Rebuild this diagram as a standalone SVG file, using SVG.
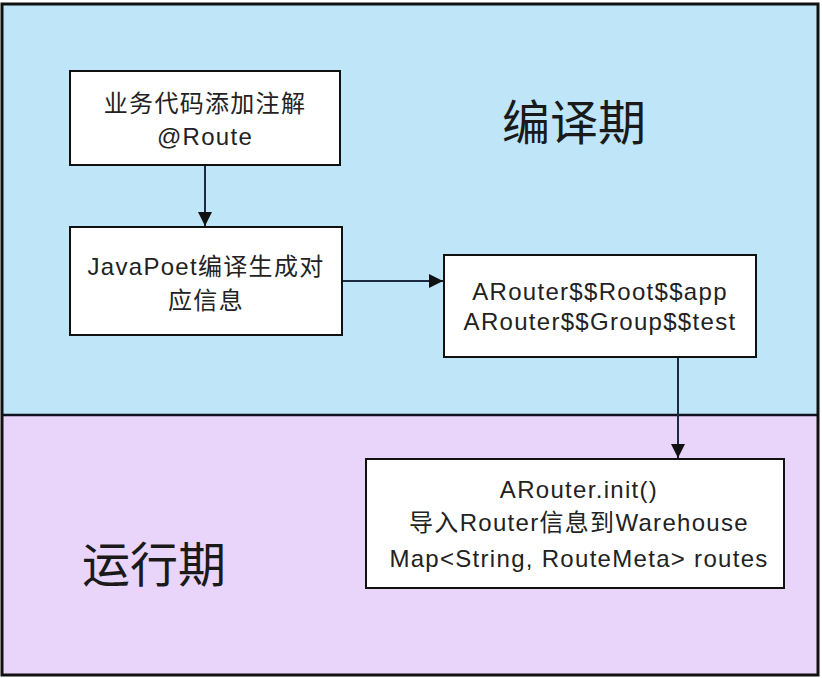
<svg xmlns="http://www.w3.org/2000/svg" width="822" height="678" viewBox="0 0 822 678">
<defs>
<style>
.box{fill:#ffffff;stroke:#111111;stroke-width:2}
.t{font-family:"Liberation Sans","Noto Sans CJK SC",sans-serif;font-size:24px;fill:#222222;text-anchor:middle;letter-spacing:1.3px}
.big{font-family:"Noto Sans CJK SC",sans-serif;font-size:48px;fill:#1a1a1a;text-anchor:middle}
.conn{stroke:#1a2a40;stroke-width:2;fill:none;marker-end:url(#ah)}
</style>
<marker id="ah" viewBox="0 0 10 10" refX="10" refY="5" markerWidth="14" markerHeight="14" markerUnits="userSpaceOnUse" orient="auto">
<path d="M0,0 L10,5 L0,10 z" fill="#111111"/>
</marker>
</defs>
<g id="phases">
<rect x="2" y="4" width="816" height="411" fill="#bee6f8"/>
<rect x="2" y="415" width="816" height="260" fill="#e9d5f9"/>
<line x1="2" y1="415" x2="818" y2="415" stroke="#111122" stroke-width="2.5"/>
<rect x="2" y="4" width="816" height="671" fill="none" stroke="#111111" stroke-width="3"/>
<text class="big" x="574" y="140">编译期</text>
<text class="big" x="154" y="582">运行期</text>
</g>
<g id="connectors">
<line class="conn" x1="205" y1="165" x2="205" y2="226"/>
<line class="conn" x1="342" y1="281" x2="443" y2="281"/>
<line class="conn" x1="678" y1="357" x2="678" y2="458"/>
</g>
<g id="n1">
<rect class="box" x="70" y="71" width="270" height="94"/>
<text class="t" x="205" y="112">业务代码添加注解</text>
<text class="t" x="205" y="145">@Route</text>
</g>
<g id="n2">
<rect class="box" x="70" y="227" width="272" height="108"/>
<text class="t" x="206" y="275">JavaPoet编译生成对</text>
<text class="t" x="206" y="309">应信息</text>
</g>
<g id="n3">
<rect class="box" x="444" y="255" width="312" height="102"/>
<text class="t" x="600" y="300">ARouter$$Root$$app</text>
<text class="t" x="600" y="330">ARouter$$Group$$test</text>
</g>
<g id="n4">
<rect class="box" x="366" y="459" width="418" height="129"/>
<text class="t" x="579" y="498">ARouter.init()</text>
<text class="t" x="579" y="531">导入Router信息到Warehouse</text>
<text class="t" x="579" y="567">Map&lt;String, RouteMeta&gt; routes</text>
</g>
</svg>
